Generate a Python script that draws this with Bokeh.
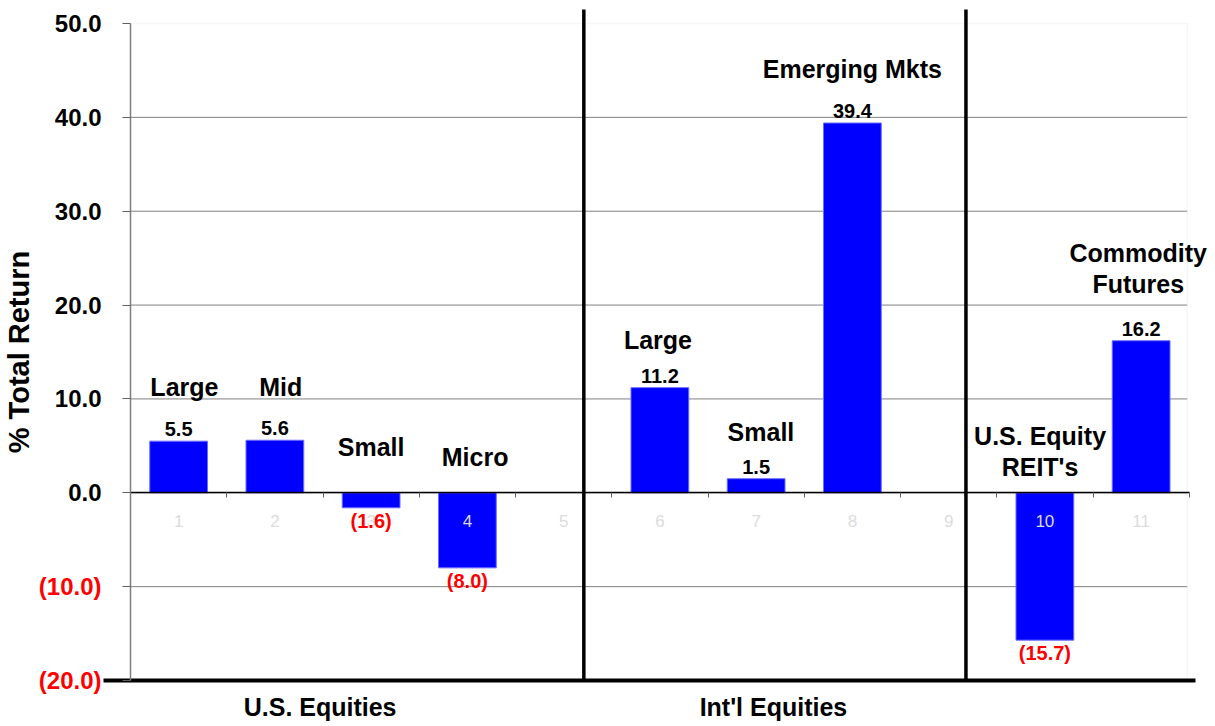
from bokeh.plotting import figure
from bokeh.models import (FixedTicker, LinearAxis, BoxAnnotation, Range1d,
                          ColumnDataSource, NumeralTickFormatter, LabelSet)
from bokeh.core.properties import value
from bokeh.embed import file_html
from bokeh.resources import INLINE

# ---------------- data ----------------
slots = [1, 2, 3, 4, 5, 6, 7, 8, 9, 10, 11]
bar_slots = [1, 2, 3, 4, 6, 7, 8, 10, 11]
bar_values = [5.5, 5.6, -1.6, -8.0, 11.2, 1.5, 39.4, -15.7, 16.2]

label_text = ["Large", "Mid", "Small", "Micro", "Large", "Small", "Emerging Mkts",
              "U.S. Equity", "REIT's", "Commodity", "Futures"]
label_x = [1.06, 2.06, 3.0, 4.08, 5.98, 7.05, 8.0, 9.95, 9.95, 10.97, 10.97]
label_y = [11.3, 11.3, 4.9, 3.8, 16.3, 6.5, 45.2, 6.0, 2.8, 25.5, 22.2]

group_names = ["U.S. Equities", "Int'l Equities"]
group_x = [2.47, 7.18]
separators = [5.21, 9.18]

y_ticks = [-20, -10, 0, 10, 20, 30, 40, 50]
grid_ticks = [-10, 0, 10, 20, 30, 40]

FONT = "Liberation Sans"

# ---------------- layout (pixels of the 1215x726 page) ----------------
W, H = 1215, 726
PX_LEFT, SLOT = 130, 96.25          # plot-area left edge, width of one slot
PY_TOP, PY_BOT = 23, 680             # pixel rows of y=50 and y=-20
Y_MIN, Y_MAX = min(y_ticks), max(y_ticks)
PPU = (PY_BOT - PY_TOP) / (Y_MAX - Y_MIN)
X_LEFT = 0.5
X_RIGHT = 11.48
x_range = Range1d(X_LEFT - PX_LEFT / SLOT, X_LEFT + (W - PX_LEFT) / SLOT)
y_range = Range1d(Y_MIN - (H - PY_BOT) / PPU, Y_MAX + PY_TOP / PPU)
SEP_TOP = Y_MAX + (PY_TOP - 9) / PPU

p = figure(width=W, height=H, x_range=x_range, y_range=y_range,
           x_axis_type=None, y_axis_type=None,
           output_backend="svg", toolbar_location=None, min_border=0)
p.outline_line_color = None
p.background_fill_color = "white"
p.xgrid.visible = False
p.ygrid.visible = False

# plot-area border (light) and grid lines
p.add_layout(BoxAnnotation(left=X_LEFT, right=X_RIGHT, bottom=Y_MIN, top=Y_MAX,
                           fill_color=None, line_color="#e3e3e3", line_width=1.5,
                           level="underlay"))
p.segment(x0=X_LEFT, x1=X_RIGHT, y0=grid_ticks, y1=grid_ticks,
          line_color="#808080", line_width=1, level="underlay")

# ---------------- y axes ----------------
def style_y(ax, color):
    ax.major_tick_out = 8
    ax.major_tick_in = 0
    ax.major_tick_line_color = "#606060"
    ax.minor_tick_line_color = None
    ax.major_label_standoff = 21
    ax.major_label_text_font = FONT
    ax.major_label_text_font_style = "bold"
    ax.major_label_text_font_size = "24px"
    ax.major_label_text_color = color

ya = LinearAxis(fixed_location=X_LEFT, bounds=(Y_MIN, Y_MAX),
                ticker=FixedTicker(ticks=[t for t in y_ticks if t >= 0]),
                formatter=NumeralTickFormatter(format="0.0"))
style_y(ya, "black")
ya.axis_line_color = "#808080"
ya.axis_line_width = 1.5
ya.axis_label = "% Total Return"
ya.axis_label_text_font = FONT
ya.axis_label_text_font_style = "bold"
ya.axis_label_text_font_size = "29px"
ya.axis_label_text_color = "black"
ya.axis_label_standoff = 17
p.add_layout(ya, "left")

yneg = LinearAxis(fixed_location=X_LEFT,
                  ticker=FixedTicker(ticks=[t for t in y_ticks if t < 0]),
                  formatter=NumeralTickFormatter(format="(0.0)"))
style_y(yneg, "red")
yneg.axis_line_color = None
p.add_layout(yneg, "left")

# ---------------- x axes ----------------
zero_axis = LinearAxis(fixed_location=0, bounds=(X_LEFT, 11.5),
                       ticker=FixedTicker(ticks=slots, minor_ticks=[s + 0.5 for s in slots]))
zero_axis.axis_line_color = "black"
zero_axis.axis_line_width = 1.5
zero_axis.major_tick_line_color = None
zero_axis.minor_tick_out = 5
zero_axis.minor_tick_in = 0
zero_axis.minor_tick_line_color = "#606060"
zero_axis.major_label_standoff = 16
zero_axis.major_label_text_font = FONT
zero_axis.major_label_text_font_size = "17px"
zero_axis.major_label_text_color = "#dcdcdc"
p.add_layout(zero_axis, "below")

xa = LinearAxis(fixed_location=Y_MIN, bounds=(X_LEFT - 27 / SLOT, 11.5 + 6 / SLOT),
                ticker=FixedTicker(ticks=group_x))
xa.major_label_overrides = {gx: name for gx, name in zip(group_x, group_names)}
xa.major_tick_out = 0
xa.major_tick_in = 0
xa.major_tick_line_color = None
xa.minor_tick_line_color = None
xa.axis_line_color = "black"
xa.axis_line_width = 4
xa.major_label_standoff = 12
xa.major_label_text_font = FONT
xa.major_label_text_font_style = "bold"
xa.major_label_text_font_size = "25px"
xa.major_label_text_color = "black"
p.add_layout(xa, "below")

# ---------------- bars ----------------
src = ColumnDataSource(dict(x=bar_slots, top=bar_values))
p.vbar(x="x", top="top", bottom=0, width=0.6, source=src,
       fill_color="#0000ff", line_color="#6b6bff", line_width=1)

# value labels
pos = [(s, v) for s, v in zip(bar_slots, bar_values) if v >= 0]
neg = [(s, v) for s, v in zip(bar_slots, bar_values) if v < 0]
p.text(x=[s for s, _ in pos], y=[v for _, v in pos],
       text=[f"{v:.1f}" for _, v in pos],
       text_font=value(FONT), text_font_style="bold", text_font_size="20px",
       text_color="black", text_align="center", text_baseline="alphabetic",
       y_offset=-12)
neg_r = p.text(x=[s for s, _ in neg], y=[v for _, v in neg],
               text=[f"({-v:.1f})" for _, v in neg],
               text_font=value(FONT), text_font_style="bold", text_font_size="20px",
               text_color="red", text_align="center", text_baseline="top",
               y_offset=2)
neg_r.level = "annotation"

# category labels
lab_src = ColumnDataSource(dict(x=label_x, y=label_y, text=label_text))
p.add_layout(LabelSet(x="x", y="y", text="text", source=lab_src,
                      text_align="center", text_baseline="middle",
                      text_font=value(FONT), text_font_style="bold",
                      text_font_size="25px", text_color="black"))

# group separators
p.segment(x0=separators, x1=separators, y0=Y_MIN, y1=SEP_TOP,
          line_color="black", line_width=3.5)

open("out.html", "w").write(file_html(p, INLINE))
